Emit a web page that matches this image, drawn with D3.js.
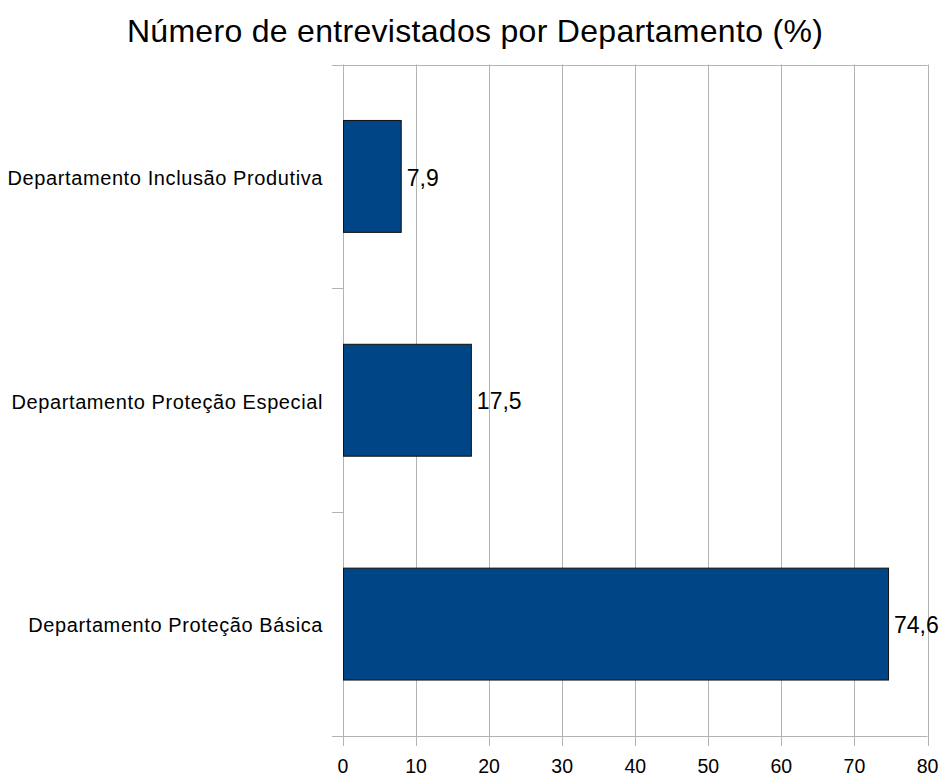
<!DOCTYPE html>
<html>
<head>
<meta charset="utf-8">
<style>
  body { margin: 0; background: #fff; }
  svg { display: block; font-family: "Liberation Sans", Arial, sans-serif; }
</style>
</head>
<body>
<svg width="945" height="778"></svg>
<script src="https://cdnjs.cloudflare.com/ajax/libs/d3/7.8.5/d3.min.js"></script>
<script>

// data
var categories = ["Departamento Inclusão Produtiva", "Departamento Proteção Especial", "Departamento Proteção Básica"];
var values = [7.9, 17.5, 74.6];
var valueLabels = ["7,9", "17,5", "74,6"];
var xTicks = [0, 10, 20, 30, 40, 50, 60, 70, 80];
var title = "Número de entrevistados por Departamento (%)";

var svg = d3.select("svg"),
    width = +svg.attr("width"),
    height = +svg.attr("height");

var margin = {top: 64.5, right: 17.5, bottom: 42, left: 343};

var x = d3.scaleLinear()
    .domain([0, 80])
    .range([margin.left, width - margin.right]);

var y = d3.scaleBand()
    .domain(categories)
    .range([margin.top, height - margin.bottom])
    .paddingInner(0.5)
    .paddingOuter(0.25);

var grid = "#b3b3b3";

// vertical gridlines
svg.append("g")
  .selectAll("line")
  .data(xTicks)
  .enter().append("line")
    .attr("x1", function(d) { return Math.round(x(d)) + 0.5; })
    .attr("x2", function(d) { return Math.round(x(d)) + 0.5; })
    .attr("y1", margin.top)
    .attr("y2", height - margin.bottom + 10)
    .attr("stroke", grid);

// top border
svg.append("line")
    .attr("x1", x(0) - 11).attr("x2", x(80))
    .attr("y1", Math.round(margin.top) + 0.5).attr("y2", Math.round(margin.top) + 0.5)
    .attr("stroke", grid);

// bottom axis line
svg.append("line")
    .attr("x1", x(0) - 11).attr("x2", x(80))
    .attr("y1", Math.round(height - margin.bottom) + 0.5).attr("y2", Math.round(height - margin.bottom) + 0.5)
    .attr("stroke", grid);

// category boundary ticks on the left
var bounds = d3.range(categories.length + 1).map(function(i) {
  return margin.top + i * (height - margin.bottom - margin.top) / categories.length;
});
svg.append("g")
  .selectAll("line")
  .data(bounds)
  .enter().append("line")
    .attr("x1", x(0) - 11)
    .attr("x2", x(0))
    .attr("y1", function(d) { return Math.round(d) + 0.5; })
    .attr("y2", function(d) { return Math.round(d) + 0.5; })
    .attr("stroke", grid);

// bars
svg.append("g")
  .selectAll("rect")
  .data(values)
  .enter().append("rect")
    .attr("x", x(0) + 0.5)
    .attr("y", function(d, i) { return y(categories[i]); })
    .attr("width", function(d) { return x(d) - x(0); })
    .attr("height", y.bandwidth())
    .attr("fill", "#004586")
    .attr("stroke", "#111")
    .attr("stroke-width", 1);

// value labels
svg.append("g")
  .selectAll("text")
  .data(values)
  .enter().append("text")
    .attr("x", function(d) { return x(d) + 6; })
    .attr("y", function(d, i) { return y(categories[i]) + y.bandwidth() / 2; })
    .attr("dy", "0.4em")
    .attr("font-size", 23)
    .attr("fill", "#000")
    .text(function(d, i) { return valueLabels[i]; });

// category labels
svg.append("g")
  .selectAll("text")
  .data(categories)
  .enter().append("text")
    .attr("x", x(0) - 20)
    .attr("y", function(d) { return y(d) + y.bandwidth() / 2; })
    .attr("dy", "0.42em")
    .attr("text-anchor", "end")
    .attr("font-size", 20)
    .attr("letter-spacing", 0.6)
    .attr("fill", "#000")
    .text(function(d) { return d; });

// x tick labels
svg.append("g")
  .selectAll("text")
  .data(xTicks)
  .enter().append("text")
    .attr("x", function(d) { return x(d); })
    .attr("y", height - 5)
    .attr("text-anchor", "middle")
    .attr("font-size", 19.5)
    .attr("fill", "#000")
    .text(function(d) { return d; });

// title
svg.append("text")
    .attr("x", 475)
    .attr("y", 42)
    .attr("text-anchor", "middle")
    .attr("font-size", 32)
    .attr("letter-spacing", 0.3)
    .attr("fill", "#000")
    .text(title);

</script>
</body>
</html>
